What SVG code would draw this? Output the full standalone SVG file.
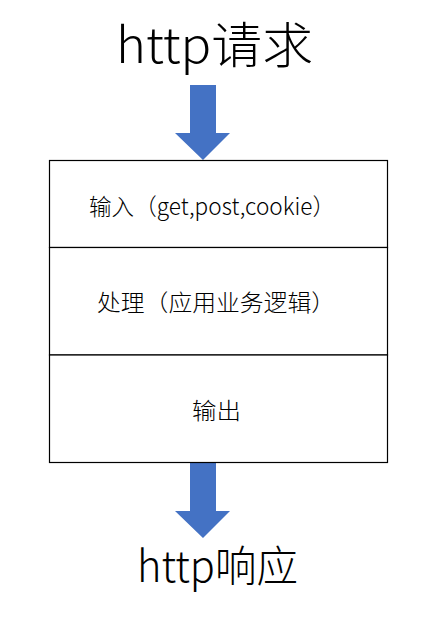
<svg xmlns="http://www.w3.org/2000/svg" width="445" height="619" viewBox="0 0 445 619">
<style>
.t{font-family:"Noto Sans CJK SC","Noto Sans",sans-serif;fill:#000;font-weight:300}
.mid{font-size:23px}
.box{fill:#fff;stroke:#000;stroke-width:1.2}
.arr{fill:#4472C4}
</style>
<rect width="445" height="619" fill="#fff"/>
<g id="title-request"><text class="t" style="font-size:49px" x="116" y="63" textLength="197" lengthAdjust="spacingAndGlyphs">http请求</text></g>
<g id="connectors">
<path class="arr" d="M190,85 H216 V133 H230 L203,160 L175,133 H190 Z"/>
<path class="arr" d="M190,463 H216 V511 H230 L203,538 L175,511 H190 Z"/>
</g>
<g id="node-input">
<rect class="box" x="49.5" y="160.5" width="338" height="87"/>
<text class="t mid" x="89" y="215" textLength="246" lengthAdjust="spacingAndGlyphs">输入（get,post,cookie）</text>
</g>
<g id="node-process">
<rect class="box" x="49.5" y="247.5" width="338" height="107.5"/>
<text class="t mid" x="97" y="311" textLength="238" lengthAdjust="spacingAndGlyphs">处理（应用业务逻辑）</text>
</g>
<g id="node-output">
<rect class="box" x="49.5" y="355" width="338" height="107.5"/>
<text class="t mid" x="192" y="419" textLength="49" lengthAdjust="spacingAndGlyphs">输出</text>
</g>
<g id="title-response"><text class="t" style="font-size:43px" x="137" y="582" textLength="161" lengthAdjust="spacingAndGlyphs">http响应</text></g>
</svg>
